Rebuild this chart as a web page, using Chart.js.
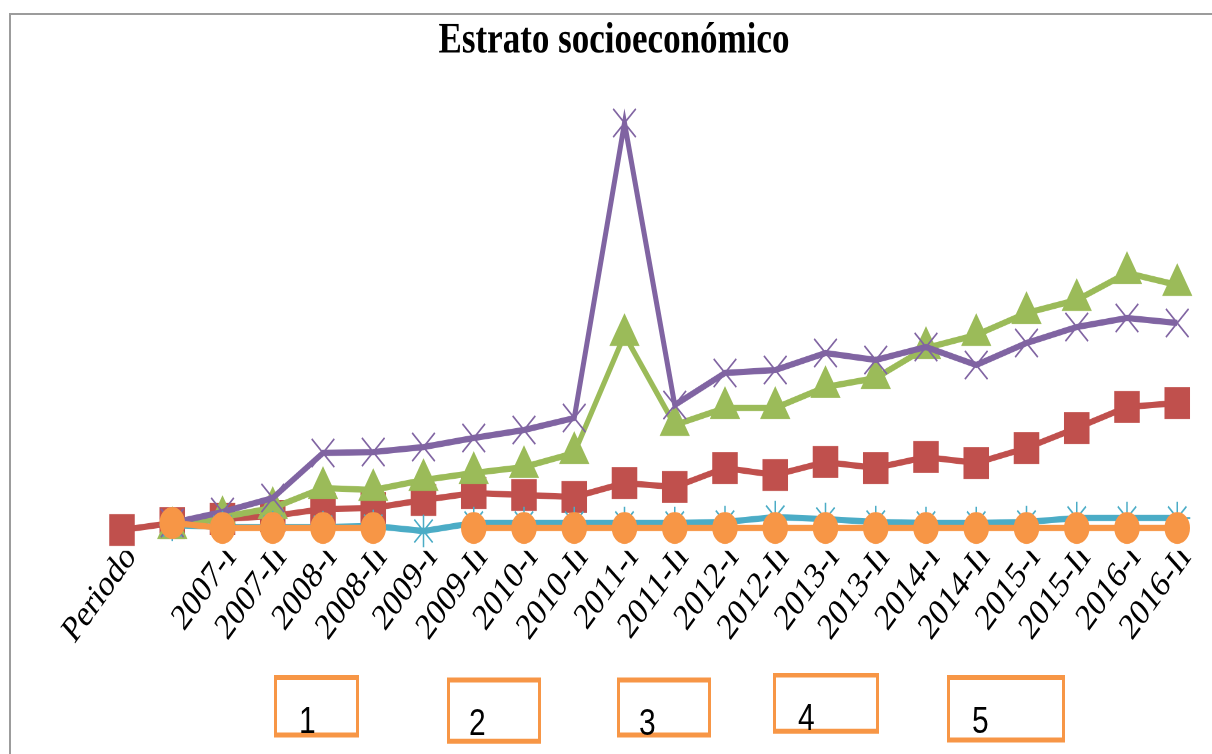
<!DOCTYPE html>
<html>
<head>
<meta charset="utf-8">
<script src="https://cdn.jsdelivr.net/npm/chart.js@4.4.0/dist/chart.umd.min.js"></script>
<style>
  html, body { margin: 0; padding: 0; background: #fff; width: 1212px; height: 754px; overflow: hidden; }
  #stage { position: absolute; left: 0; top: 0; width: 1212px; height: 603px; transform: scaleY(1.25); transform-origin: 0 0; }
  #frame { position: absolute; left: 9px; top: 13px; width: 1210px; height: 750px; border-top: 2px solid #9c9c9c; border-left: 2px solid #9c9c9c; }
  .key { position: absolute; box-sizing: border-box; border-style: solid; border-color: #f79646; border-width: 4px 3px; background: #fff;
         font-family: "Liberation Sans Narrow", "Liberation Sans", sans-serif; font-size: 30px; line-height: 30px; color: #000; }
  .key span { position: absolute; top: 17px; }
</style>
</head>
<body>
<div id="frame"></div>
<div id="stage">
  <canvas id="chartCanvas"></canvas>
  <div class="key" style="left:274px;top:540px;width:85px;height:50px;"><span style="left:22px;">1</span></div>
  <div class="key" style="left:447px;top:542px;width:94px;height:53px;"><span style="left:19px;">2</span></div>
  <div class="key" style="left:617px;top:542px;width:94px;height:48px;"><span style="left:19px;">3</span></div>
  <div class="key" style="left:773px;top:538px;width:106px;height:49px;"><span style="left:22px;">4</span></div>
  <div class="key" style="left:947px;top:540px;width:118px;height:54px;"><span style="left:22px;">5</span></div>
</div>
<script>
const chartTitle = 'Estrato socioeconómico';

const periodLabels = ['Periodo', '', '2007-I', '2007-II', '2008-I', '2008-II', '2009-I', '2009-II', '2010-I', '2010-II',
    '2011-I', '2011-II', '2012-I', '2012-II', '2013-I', '2013-II', '2014-I', '2014-II', '2015-I', '2015-II', '2016-I', '2016-II'];

const estrato1 = [0.25, 2, 3, 3.75, 5.5, 5.75, 7.75, 9.5, 9, 8.5, 12, 11, 15.75, 14, 17.25, 15.75, 18.5, 17, 20.75, 25.75, 31, 32];
const estrato2 = [null, 0.75, 3.5, 5.75, 10.75, 10.25, 12.75, 14.5, 16, 19.5, 49, 26.5, 30.75, 30.75, 36, 38.25, 45.75, 49, 54.5, 57.75, 64.5, 61.5];
const estrato3 = [null, 2, 4.75, 8.25, 19.5, 19.75, 21, 23.25, 25.25, 28.25, 102, 31.5, 39.5, 40.25, 44.5, 42.75, 46, 41.5, 47, 51, 53.25, 52];
const estrato4 = [null, 1.5, 1, 1, 1, 1.25, 0, 2, 2, 2, 2, 2, 2.25, 3.5, 3, 2.25, 2, 2, 2.25, 3.25, 3.25, 3.25];
const estrato5 = [null, 2, 0.75, 0.75, 0.75, 0.75, null, 0.75, 0.75, 0.75, 0.75, 0.75, 0.75, 0.75, 0.75, 0.75, 0.75, 0.75, 0.75, 0.75, 0.75, 0.75];

const yMin = -5;
const yMax = 105;

function series(label, data, color, style, radius, order) {
    return {
        label: label,
        data: data,
        borderColor: color,
        backgroundColor: color,
        borderWidth: 5,
        tension: 0,
        spanGaps: false,
        clip: false,
        order: order,
        pointStyle: style,
        pointRadius: radius,
        pointHoverRadius: radius,
        pointBackgroundColor: color,
        pointBorderColor: color,
        pointBorderWidth: 1.5
    };
}

// title is centred on the picture, not on the plot area
const titlePlugin = {
    id: 'titleText',
    afterDraw(chart) {
        const ctx = chart.ctx;
        ctx.save();
        ctx.font = 'bold 35px "Liberation Serif"';
        ctx.fillStyle = '#000';
        ctx.textAlign = 'center';
        ctx.textBaseline = 'middle';
        ctx.fillText(chartTitle, 614, 33);
        ctx.restore();
    }
};

const ctx = document.getElementById('chartCanvas').getContext('2d');
new Chart(ctx, {
    type: 'line',
    data: {
        labels: periodLabels,
        datasets: [
            series('1', estrato1, '#c0504d', 'rect', 17, 5),
            series('2', estrato2, '#9bbb59', 'triangle', 16, 4),
            series('3', estrato3, '#8064a2', 'crossRot', 16, 3),
            series('4', estrato4, '#4bacc6', 'star', 13, 2),
            series('5', estrato5, '#f79646', 'circle', 12, 1)
        ]
    },
    plugins: [titlePlugin],
    options: {
        responsive: true,
        maintainAspectRatio: false,
        devicePixelRatio: 2,
        animation: false,
        layout: { padding: { left: 122, right: 34.75, top: 88.8, bottom: 0 } },
        scales: {
            x: {
                grid: { display: false, drawTicks: false },
                border: { display: false },
                ticks: {
                    color: '#000',
                    font: { family: 'Liberation Serif', size: 30 },
                    autoSkip: false,
                    minRotation: 48,
                    maxRotation: 48,
                    padding: -12,
                    labelOffset: 9
                },
                afterFit: (scale) => { scale.height = 162.2; }
            },
            y: { display: false, min: yMin, max: yMax }
        },
        plugins: { legend: { display: false }, tooltip: { enabled: false }, title: { display: false } }
    }
});
</script>
</body>
</html>
